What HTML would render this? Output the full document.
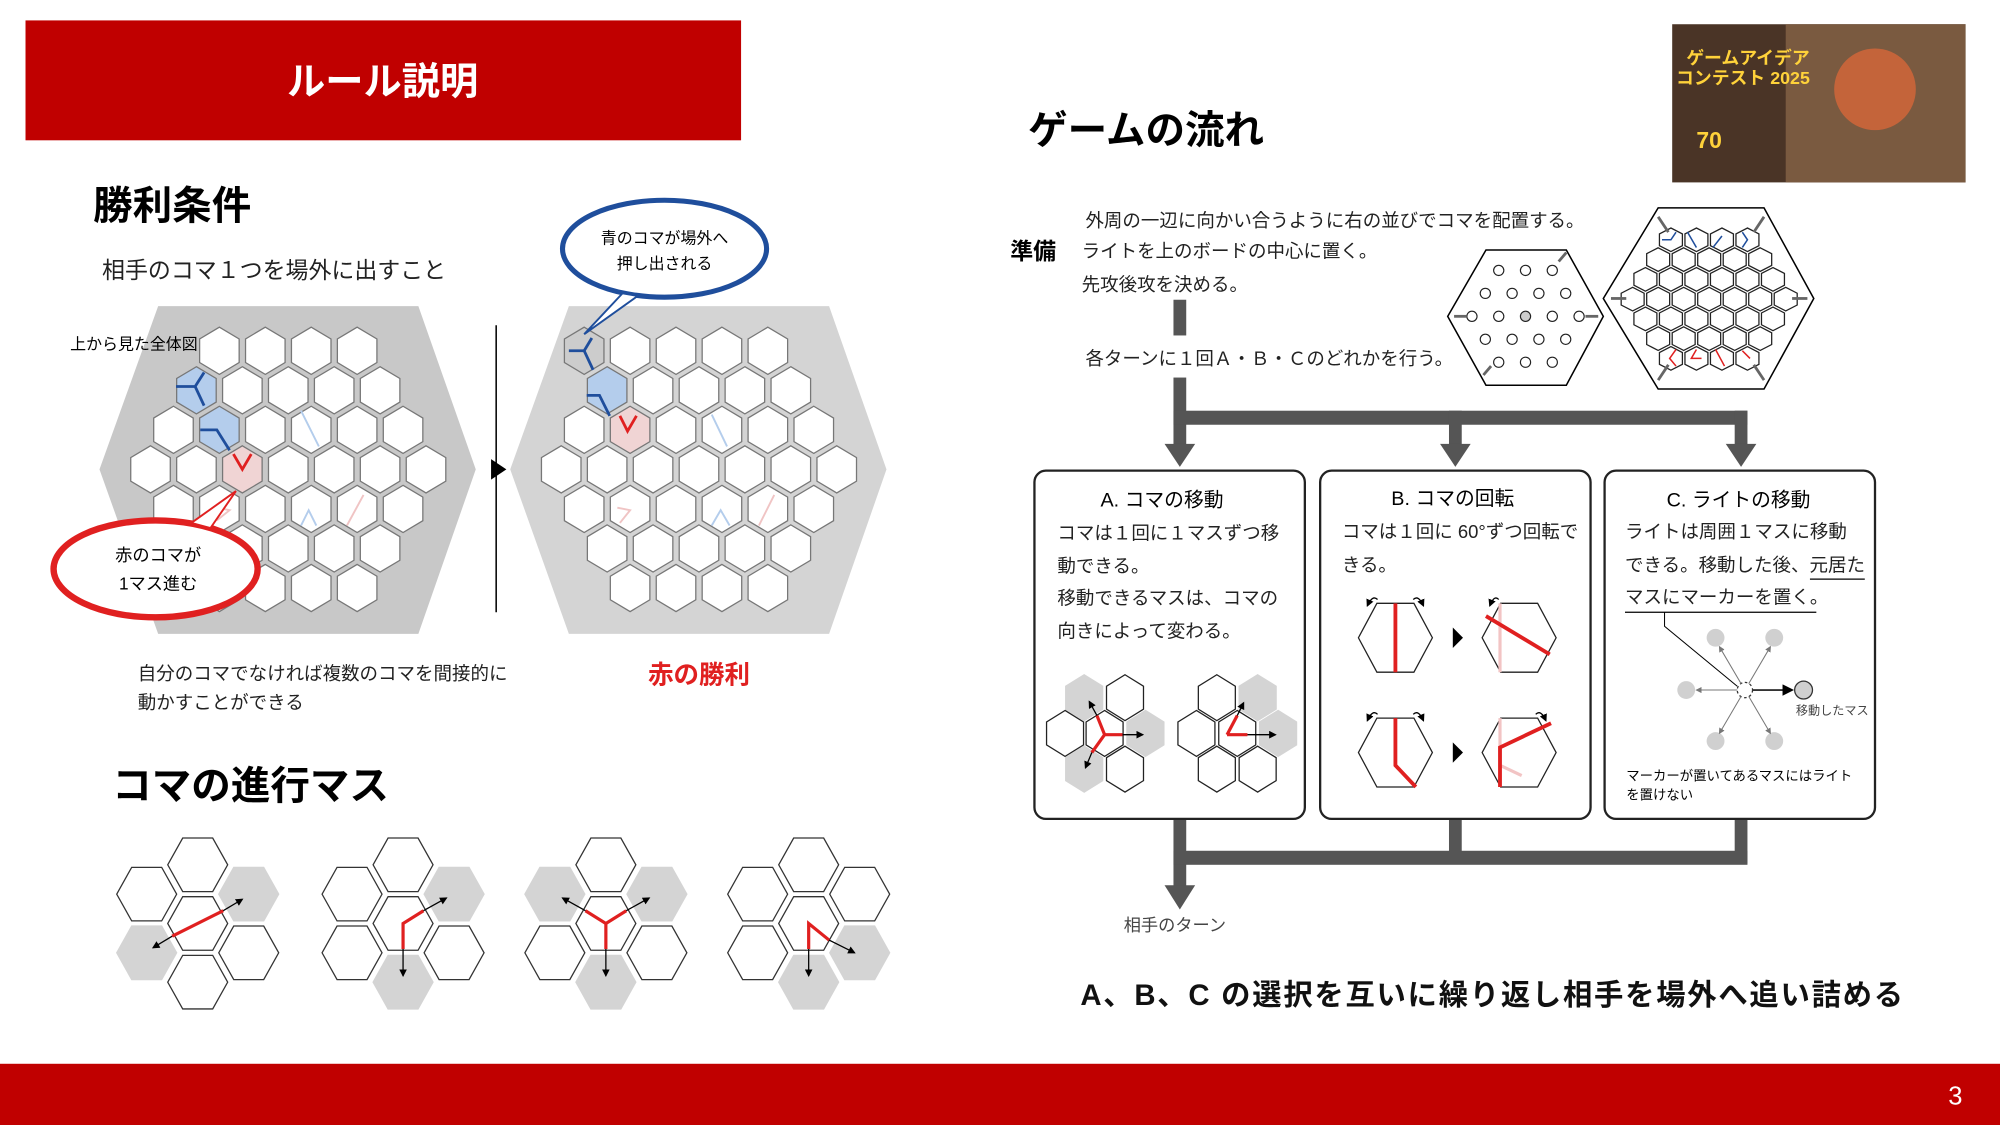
<!DOCTYPE html>
<html><head><meta charset="utf-8"><style>
html,body{margin:0;padding:0;background:#fff}
svg{display:block}
text{font-family:"Liberation Sans","Noto Sans CJK JP",sans-serif}
</style></head><body>
<svg id="s" width="2000" height="1125" viewBox="0 0 1568 882" xmlns="http://www.w3.org/2000/svg">
<defs>
<marker id="ah" markerWidth="6" markerHeight="6" refX="5" refY="3" orient="auto"><path d="M0,0 L6,3 L0,6z" fill="#000"/></marker>
<marker id="ahg" markerWidth="6" markerHeight="6" refX="5" refY="3" orient="auto"><path d="M0,0 L6,3 L0,6z" fill="#777"/></marker>
</defs>
<rect x="20" y="16" width="561" height="94" fill="#c00000"/>
<text x="300" y="74" font-size="30" font-weight="bold" fill="#fff" text-anchor="middle">ルール説明</text>
<rect x="0" y="834" width="1568" height="48" fill="#c00000"/>
<text x="1533" y="866" font-size="20" fill="#fff" text-anchor="middle">3</text>

<text x="73" y="172" font-size="31" font-weight="bold">勝利条件</text>
<text x="80" y="218" font-size="18" fill="#222">相手のコマ１つを場外に出すこと</text>

<polygon points="124,240 328,240 373,368 328,497 124,497 78,368" fill="#c8c8c8"/>
<polygon points="446,240 650,240 695,368 650,497 446,497 400,368" fill="#d4d4d4"/>
<g id="b1"></g><g id="b2"></g>
<text x="55" y="274" font-size="12.5">上から見た全体図</text>
<line x1="389" y1="255" x2="389" y2="480" stroke="#000" stroke-width="1.2"/>
<polygon points="385,360 397,368 385,376" fill="#000"/>

<ellipse cx="521" cy="195" rx="80" ry="38" fill="#fff" stroke="#1f4e9c" stroke-width="4"/>
<polygon points="488,230 458,262 500,232" fill="#fff" stroke="#1f4e9c" stroke-width="1.5"/>
<text x="521" y="191" font-size="12.5" text-anchor="middle">青のコマが場外へ</text>
<text x="521" y="211" font-size="12.5" text-anchor="middle">押し出される</text>
<ellipse cx="122" cy="446" rx="80" ry="38" fill="#fff" stroke="#e02020" stroke-width="5"/>
<polygon points="150,410 185,385 165,414" fill="#fff" stroke="#e02020" stroke-width="1.5"/>
<text x="124" y="440" font-size="13.5" text-anchor="middle">赤のコマが</text>
<text x="124" y="462" font-size="13.5" text-anchor="middle">1マス進む</text>

<text x="108" y="533" font-size="14.5" fill="#222">自分のコマでなければ複数のコマを間接的に</text>
<text x="108" y="556" font-size="14.5" fill="#222">動かすことができる</text>
<text x="508" y="536" font-size="20" font-weight="bold" fill="#e02020">赤の勝利</text>
<text x="88" y="627" font-size="31" font-weight="bold">コマの進行マス</text>
<g id="cl"></g>

<text x="806" y="113" font-size="31" font-weight="bold">ゲームの流れ</text>
<text x="792" y="203" font-size="18" font-weight="bold">準備</text>
<text x="851" y="178" font-size="14.5" fill="#222">外周の一辺に向かい合うように右の並びでコマを配置する。</text>
<text x="848" y="202" font-size="14.5" fill="#222">ライトを上のボードの中心に置く。</text>
<text x="848" y="228" font-size="14.5" fill="#222">先攻後攻を決める。</text>
<text x="851" y="286" font-size="14.5" fill="#222">各ターンに１回Ａ・Ｂ・Ｃのどれかを行う。</text>

<polygon points="1165,196 1228,196 1257,248 1228,302 1165,302 1135,248" fill="#fff" stroke="#000" stroke-width="1.2"/>
<polygon points="1300,163 1383,163 1422,234 1383,305 1300,305 1257,234" fill="#fff" stroke="#000" stroke-width="1.2"/>
<g id="sb"></g>

<rect x="1311" y="19" width="230" height="124" fill="#4a3426"/>
<rect x="1400" y="19" width="141" height="124" fill="#7a5a40"/>
<circle cx="1470" cy="70" r="32" fill="#c4643a"/>
<text x="1322" y="50" font-size="14" font-weight="bold" fill="#ffd23a">ゲームアイデア</text>
<text x="1314" y="66" font-size="14" font-weight="bold" fill="#ffd23a">コンテスト 2025</text>
<text x="1330" y="116" font-size="18" font-weight="bold" fill="#ffd23a">70</text>

<g fill="#555">
<rect x="920" y="235" width="10" height="28"/>
<rect x="920" y="296" width="10" height="54"/>
<rect x="920" y="322" width="450" height="11"/>
<rect x="1136" y="322" width="10" height="28"/>
<rect x="1360" y="322" width="10" height="28"/>
<polygon points="913,348 937,348 925,366"/>
<polygon points="1129,348 1153,348 1141,366"/>
<polygon points="1353,348 1377,348 1365,366"/>
<rect x="920" y="642" width="10" height="55"/>
<rect x="1136" y="642" width="10" height="35"/>
<rect x="1360" y="642" width="10" height="35"/>
<rect x="920" y="667" width="450" height="11"/>
<polygon points="913,694 937,694 925,713"/>
</g>
<g fill="#fff" stroke="#222" stroke-width="1.8">
<rect x="811" y="369" width="212" height="273" rx="9"/>
<rect x="1035" y="369" width="212" height="273" rx="9"/>
<rect x="1258" y="369" width="212" height="273" rx="9"/>
</g>
<text x="911" y="397" font-size="15.5" text-anchor="middle">A. コマの移動</text>
<text x="1139" y="396" font-size="15.5" text-anchor="middle">B. コマの回転</text>
<text x="1363" y="397" font-size="15.5" text-anchor="middle">C. ライトの移動</text>
<g font-size="14.5" fill="#222">
<text x="829" y="423">コマは１回に１マスずつ移</text>
<text x="829" y="449">動できる。</text>
<text x="829" y="474">移動できるマスは、コマの</text>
<text x="829" y="500">向きによって変わる。</text>
<text x="1052" y="422">コマは１回に 60°ずつ回転で</text>
<text x="1052" y="448">きる。</text>
<text x="1274" y="422">ライトは周囲１マスに移動</text>
<text x="1274" y="448">できる。移動した後、元居た</text>
<text x="1274" y="473">マスにマーカーを置く。</text>
</g>
<line x1="1419" y1="454" x2="1462" y2="454" stroke="#000"/>
<line x1="1274" y1="480" x2="1424" y2="480" stroke="#000"/>
<polyline points="1305,480 1305,491 1362,538" fill="none" stroke="#000" stroke-width="0.8"/>
<text x="1275" y="612" font-size="10.5">マーカーが置いてあるマスにはライト</text>
<text x="1275" y="627" font-size="10.5">を置けない</text>
<text x="1408" y="560" font-size="9.5" fill="#444">移動したマス</text>
<g fill="#d0d0d0">
<circle cx="1345" cy="500" r="7"/><circle cx="1391" cy="500" r="7"/><circle cx="1322" cy="541" r="7"/>
<circle cx="1345" cy="581" r="7"/><circle cx="1391" cy="581" r="7"/>
</g>
<circle cx="1414" cy="541" r="7" fill="#d0d0d0" stroke="#333"/>
<circle cx="1368" cy="541" r="6" fill="#fff" stroke="#333" stroke-dasharray="2,2"/>
<g stroke="#777" stroke-width="0.8" marker-end="url(#ahg)">
<line x1="1365" y1="536" x2="1348" y2="507"/><line x1="1371" y1="536" x2="1388" y2="507"/>
<line x1="1362" y1="541" x2="1330" y2="541"/><line x1="1365" y1="546" x2="1348" y2="575"/>
<line x1="1371" y1="546" x2="1388" y2="575"/>
</g>
<line x1="1374" y1="541" x2="1405" y2="541" stroke="#333" stroke-width="1.5" marker-end="url(#ah)"/>
<g id="pa"></g><g id="pb"></g>

<text x="881" y="730" font-size="13.5" fill="#444">相手のターン</text>
<text x="847" y="788" font-size="23" font-weight="bold" fill="#111" textLength="645" lengthAdjust="spacing">A、B、C の選択を互いに繰り返し相手を場外へ追い詰める</text>
</svg>
<script>
const NS="http://www.w3.org/2000/svg";
function el(p,t,a){const e=document.createElementNS(NS,t);for(const k in a)e.setAttribute(k,a[k]);p.appendChild(e);return e;}
function hexP(cx,cy,w,h){return [[cx,cy-h/2],[cx+w/2,cy-h/4],[cx+w/2,cy+h/4],[cx,cy+h/2],[cx-w/2,cy+h/4],[cx-w/2,cy-h/4]].map(p=>p.join(',')).join(' ');}
function hexF(cx,cy,w,h){return [[cx-w/2,cy],[cx-w/4,cy-h/2],[cx+w/4,cy-h/2],[cx+w/2,cy],[cx+w/4,cy+h/2],[cx-w/4,cy+h/2]].map(p=>p.join(',')).join(' ');}
const counts=[4,5,6,7,6,5,4];
function board(g,cx0,special){
 counts.forEach((n,r)=>{const y=275+31*r;for(let i=0;i<n;i++){const x=cx0-(n-1)*18+36*i;
  const f=special[r+'_'+i]||'#fff';
  el(g,'polygon',{points:hexP(x,y,31,37),fill:f,stroke:'#777','stroke-width':1});}});
}
const b1=document.getElementById('b1'),b2=document.getElementById('b2');
board(b1,226,{'1_0':'#b4cdec','2_1':'#b4cdec','3_2':'#f0d4d4'});
el(b2,'polygon',{points:hexP(458,275,31,37),fill:'#ccc',stroke:'#777'});
board(b2,548,{'1_0':'#b4cdec','2_1':'#f0d4d4'});
function pl(g,pts,c,w){el(g,'polyline',{points:pts,fill:'none',stroke:c,'stroke-width':w||2.2});}
pl(b1,'138,303 153,303 160,292','#1f4e9c');pl(b1,'153,303 160,318','#1f4e9c');
pl(b1,'157,337 170,337 180,353','#1f4e9c');pl(b1,'183,356 190,368 197,356','#e02020');
pl(b1,'236,322 250,350','#b4cdec',1.5);pl(b1,'236,412 242,400 248,412','#b4cdec',1.5);
pl(b1,'272,412 285,388','#f0c4c4',1.5);pl(b1,'170,398 180,400 170,408','#f0c4c4',1.5);
pl(b2,'446,275 458,275 465,290','#1f4e9c');pl(b2,'458,275 464,265','#1f4e9c');
pl(b2,'460,310 470,310 478,326','#1f4e9c');pl(b2,'486,326 492,338 499,326','#e02020');
pl(b2,'558,325 570,350','#b4cdec',1.5);pl(b2,'558,412 565,400 572,412','#b4cdec',1.5);
pl(b2,'595,412 607,388','#f0c4c4',1.5);pl(b2,'484,398 494,400 486,410','#f0c4c4',1.5);
const cl=document.getElementById('cl');
const off=[[0,-46],[-40,-23],[40,-23],[0,0],[-40,23],[40,23],[0,46]];
const grays=[[2,4],[2,6],[1,2,6],[5,6]];
[155,316,475,634].forEach((cx,k)=>{off.forEach((o,i)=>{const g=grays[k].includes(i);
 el(cl,'polygon',{points:hexF(cx+o[0],724+o[1],47,42),fill:g?'#d4d4d4':'#fff',stroke:g?'#d4d4d4':'#333','stroke-width':1});});});
function arr(g,x1,y1,x2,y2){el(g,'line',{x1,y1,x2,y2,stroke:'#000','stroke-width':1,'marker-end':'url(#ah)'});}
const R='#e02020';
pl(cl,'135,734 175,714',R,2.5);arr(cl,175,714,190,705);arr(cl,135,734,120,743);
pl(cl,'316,744 316,724 332,714',R,2.5);arr(cl,332,714,350,704);arr(cl,316,744,316,765);
pl(cl,'475,744 475,724 459,714',R,2.5);pl(cl,'475,724 491,714',R,2.5);arr(cl,459,714,441,704);arr(cl,491,714,509,704);arr(cl,475,744,475,765);
pl(cl,'634,744 634,724 650,737',R,2.5);arr(cl,650,737,670,747);arr(cl,634,744,634,765);
const pa=document.getElementById('pa');
[[[850,547,1],[882,547,0],[835,575,0],[866,575,0],[898,575,1],[850,603,1],[882,603,0]],[[954,547,0],[986,547,1],[938,575,0],[970,575,0],[1002,575,1],[954,603,0],[986,603,0]]].forEach(cs=>{
 cs.forEach(([x,y,g])=>el(pa,'polygon',{points:hexP(x,y,29,36),fill:g?'#d4d4d4':'#fff',stroke:g?'#d4d4d4':'#222','stroke-width':1}));});
pl(pa,'860,561 866,576 856,590',R,2.5);pl(pa,'866,576 880,576',R,2.5);
arr(pa,860,561,854,550);arr(pa,856,590,851,602);arr(pa,880,576,896,576);
pl(pa,'962,576 970,561',R,2.5);pl(pa,'962,576 978,576',R,2.5);arr(pa,970,561,975,551);arr(pa,978,576,1000,576);
const pb=document.getElementById('pb');
[[1094,500],[1191,500],[1094,590],[1191,590]].forEach(([x,y])=>el(pb,'polygon',{points:hexF(x,y,58,54),fill:'#fff',stroke:'#222','stroke-width':1}));
el(pb,'polygon',{points:'1139,492 1147,500 1139,508',fill:'#000'});el(pb,'polygon',{points:'1139,582 1147,590 1139,598',fill:'#000'});
pl(pb,'1094,473 1094,527',R,3);pl(pb,'1176,473 1176,527','#f2c4c4',2.5);pl(pb,'1165,483 1215,513',R,3);
pl(pb,'1094,563 1094,600 1110,617',R,3);pl(pb,'1176,563 1176,617','#f2c4c4',2.5);pl(pb,'1176,600 1193,608','#f2c4c4',2.5);pl(pb,'1176,617 1176,586 1216,567',R,3);
[[1080,470,1072,475],[1108,470,1116,475],[1175,470,1168,475],[1080,560,1072,565],[1108,560,1116,565],[1204,560,1212,565]].forEach(([a,b,c,d])=>el(pb,'path',{d:`M${a},${b} Q${(a+c)/2},${b-4} ${c},${d}`,fill:'none',stroke:'#000','marker-end':'url(#ah)'}));
const sb=document.getElementById('sb');
[3,4,5,4,3].forEach((n,r)=>{const y=212+18*r;for(let i=0;i<n;i++){const x=1196-(n-1)*10.5+21*i;
 el(sb,'circle',{cx:x,cy:y,r:4,fill:(r==2&&i==2)?'#ccc':'#fff',stroke:'#222','stroke-width':0.9});}});
counts.forEach((n,r)=>{const y=188+15.5*r;for(let i=0;i<n;i++){const x=1340-(n-1)*10+20*i;
 el(sb,'polygon',{points:hexP(x,y,18,18.5),fill:'#fff',stroke:'#222','stroke-width':1});}});
const sbb='#1f4e9c';
pl(sb,'1303,188 1310,188 1314,182',sbb,1.2);pl(sb,'1323,182 1330,194',sbb,1.2);pl(sb,'1343,194 1350,185',sbb,1.2);pl(sb,'1366,182 1370,188 1366,194',sbb,1.2);
pl(sb,'1314,274 1309,281 1314,287','#e02020',1.2);pl(sb,'1330,274 1326,281 1334,281','#e02020',1.2);pl(sb,'1345,274 1352,287','#e02020',1.2);pl(sb,'1372,281 1366,275 M0,0','#e02020',1.2);
[[1263,234,1275,234],[1405,234,1417,234],[1300,170,1308,182],[1383,170,1375,182],[1300,298,1308,286],[1383,298,1375,286],[1140,248,1150,248],[1243,248,1253,248],[1222,205,1228,198],[1163,294,1169,287]].forEach(([a,b,c,d])=>el(sb,'line',{x1:a,y1:b,x2:c,y2:d,stroke:'#666','stroke-width':2.2}));
</script>
</body></html>
